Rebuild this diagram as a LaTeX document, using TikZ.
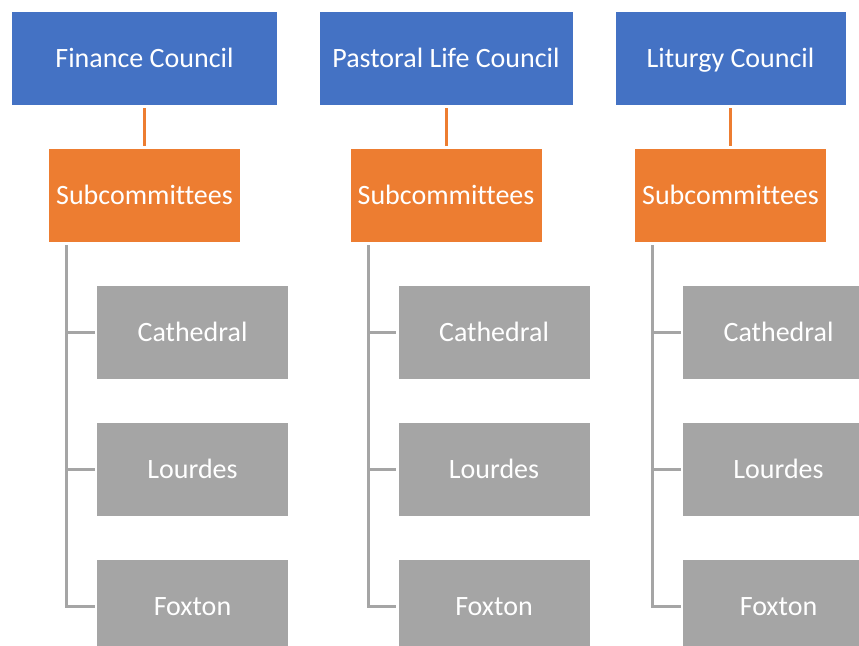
\documentclass[tikz,border=0pt]{standalone}
\usepackage{fontspec}
\setmainfont{Carlito}[Ligatures=NoCommon]
\definecolor{cblue}{HTML}{4472C4}
\definecolor{corange}{HTML}{ED7D31}
\definecolor{cgray}{HTML}{A5A5A5}
\begin{document}
\begin{tikzpicture}[x=1pt,y=-1pt,
  boxbase/.style={rectangle, inner sep=0pt, text=white, font=\fontsize{28}{33}\selectfont, minimum height=93pt, text height=17.7pt, text depth=0pt},
  bluebox/.style={boxbase, fill=cblue},
  orangebox/.style={boxbase, fill=corange, minimum width=191pt},
  graybox/.style={boxbase, fill=cgray, minimum width=191pt},
  orangeline/.style={draw=corange, line width=3pt},
  grayline/.style={draw=cgray, line width=3pt}]
\useasboundingbox (0,0) rectangle (859,645);
\clip (0,0) rectangle (859,645);
% Finance
\node[bluebox, minimum width=265pt] (f) at (144.5,58.5) {Finance Council};
\node[orangebox] (fs) at (144.5,195.5) {Subcommittees};
\node[graybox] (f1) at (192.5,332.5) {Cathedral};
\node[graybox] (f2) at (192.5,469.5) {Lourdes};
\node[graybox] (f3) at (192.5,606.5) {Foxton};
% Pastoral
\node[bluebox, minimum width=253pt] (p) at (446,58.5) {Pastoral Life Council};
\node[orangebox] (ps) at (446,195.5) {Subcommittees};
\node[graybox] (p1) at (494,332.5) {Cathedral};
\node[graybox] (p2) at (494,469.5) {Lourdes};
\node[graybox] (p3) at (494,606.5) {Foxton};
% Liturgy
\node[bluebox, minimum width=230pt] (l) at (730.5,58.5) {Liturgy Council};
\node[orangebox] (ls) at (730.5,195.5) {Subcommittees};
\node[graybox] (l1) at (778.5,332.5) {Cathedral};
\node[graybox] (l2) at (778.5,469.5) {Lourdes};
\node[graybox] (l3) at (778.5,606.5) {Foxton};
% connectors
\foreach \t/\s in {f/fs,p/ps,l/ls}{
  \draw[orangeline] ([yshift=-3pt]\t.south) -- ([yshift=3pt]\s.north);
}
\foreach \s/\a/\b/\c in {fs/f1/f2/f3,ps/p1/p2/p3,ls/l1/l2/l3}{
  \draw[grayline] ([xshift=18pt,yshift=-3pt]\s.south west) |- ([xshift=-2pt]\c.west);
  \draw[grayline] ([xshift=18pt]\s.south west |- \a.west) -- ([xshift=-2pt]\a.west);
  \draw[grayline] ([xshift=18pt]\s.south west |- \b.west) -- ([xshift=-2pt]\b.west);
}
\end{tikzpicture}
\end{document}
